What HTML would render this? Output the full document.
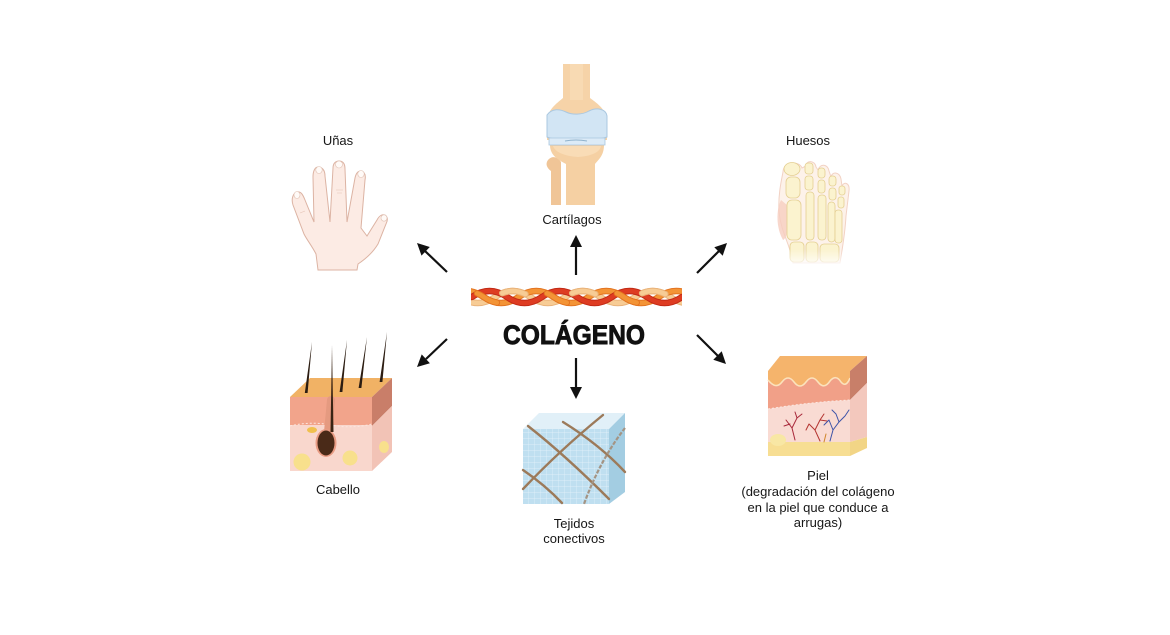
<!DOCTYPE html>
<html><head><meta charset="utf-8"><style>
html,body{margin:0;padding:0;background:#fff;width:1170px;height:635px;overflow:hidden}
svg{display:block}
text{font-family:"Liberation Sans",Arial,sans-serif;fill:#161616}
</style></head><body>
<svg width="1170" height="635" viewBox="0 0 1170 635" xmlns="http://www.w3.org/2000/svg">
<rect width="1170" height="635" fill="#fff"/>
<defs>
<clipPath id="ropeclip"><rect x="471" y="280" width="211" height="35"/></clipPath>
<pattern id="grid" width="6" height="6" patternUnits="userSpaceOnUse"><path d="M6,0 L0,0 0,6" fill="none" stroke="#e6f3fa" stroke-width="0.7"/></pattern>
<linearGradient id="footfade" x1="0" y1="0" x2="0" y2="1"><stop offset="0.75" stop-color="#fff" stop-opacity="0"/><stop offset="1" stop-color="#fff" stop-opacity="0.9"/></linearGradient>
</defs>

<!-- ===== Collagen rope ===== -->
<g clip-path="url(#ropeclip)" fill="none" stroke-linecap="round">
  <path d="M425.3,297 q17.5,-12 35,0 t35,0 t35,0 t35,0 t35,0 t35,0 t35,0 t35,0" stroke="#e9b37a" stroke-width="6.5"/>
  <path d="M425.3,297 q17.5,-12 35,0 t35,0 t35,0 t35,0 t35,0 t35,0 t35,0 t35,0" stroke="#f7cc95" stroke-width="4.5"/>
  <path d="M448.7,297 q17.5,-12 35,0 t35,0 t35,0 t35,0 t35,0 t35,0 t35,0" stroke="#e37420" stroke-width="6.5"/>
  <path d="M448.7,297 q17.5,-12 35,0 t35,0 t35,0 t35,0 t35,0 t35,0 t35,0" stroke="#f39436" stroke-width="4.5"/>
  <path d="M472,297 q17.5,-12 35,0 t35,0 t35,0 t35,0 t35,0 t35,0" stroke="#c22a16" stroke-width="6.5"/>
  <path d="M472,297 q17.5,-12 35,0 t35,0 t35,0 t35,0 t35,0 t35,0" stroke="#de3c22" stroke-width="4.5"/>
  <!-- over-crossings to simulate braid -->
  <path d="M425.3,297 q17.5,-12 35,0 t35,0 t35,0 t35,0 t35,0 t35,0 t35,0 t35,0" stroke="#e9b37a" stroke-width="6.5" stroke-dasharray="24,51" stroke-dashoffset="-8"/>
  <path d="M425.3,297 q17.5,-12 35,0 t35,0 t35,0 t35,0 t35,0 t35,0 t35,0 t35,0" stroke="#f7cc95" stroke-width="4.5" stroke-dasharray="24,51" stroke-dashoffset="-8"/>
  <path d="M448.7,297 q17.5,-12 35,0 t35,0 t35,0 t35,0 t35,0 t35,0 t35,0" stroke="#e37420" stroke-width="6.5" stroke-dasharray="22,53" stroke-dashoffset="-30"/>
  <path d="M448.7,297 q17.5,-12 35,0 t35,0 t35,0 t35,0 t35,0 t35,0 t35,0" stroke="#f39436" stroke-width="4.5" stroke-dasharray="22,53" stroke-dashoffset="-30"/>
</g>
<text x="574" y="344" font-size="27" font-weight="bold" text-anchor="middle" textLength="142" lengthAdjust="spacingAndGlyphs" style="fill:#111;stroke:#111;stroke-width:0.9">COLÁGENO</text>

<!-- ===== Arrows ===== -->
<g stroke="#111" stroke-width="2.2" fill="none">
  <line x1="576" y1="275" x2="576" y2="246"/>
  <line x1="576" y1="358" x2="576" y2="388"/>
  <line x1="447" y1="272" x2="425" y2="251"/>
  <line x1="697" y1="273" x2="719" y2="251"/>
  <line x1="447" y1="339" x2="426" y2="359"/>
  <line x1="697" y1="335" x2="718" y2="356"/>
</g>
<g fill="#111">
  <polygon points="576,235 582,247 570,247"/>
  <polygon points="576,399 582,387 570,387"/>
  <polygon points="417,243 429.8,247 421.5,255.6"/>
  <polygon points="727,243 722.7,255.7 714.3,247.3"/>
  <polygon points="417,367 429.9,363.2 421.7,354.4"/>
  <polygon points="726,364 713.3,359.7 721.7,351.3"/>
</g>

<!-- ===== Knee (Cartílagos) ===== -->
<g>
  <path d="M563,64 L590,64 L590,98 C598,104 607,110 607,122 L607,140 L547,140 L547,122 C547,110 556,104 563,98 Z" fill="#f6d3a8"/>
  <path d="M570,64 L583,64 L583,100 L570,100 Z" fill="#f9ddb8" opacity="0.7"/>
  <path d="M548,160 C552,155 558,157 561,162 L561,205 L551,205 L551,171 C547,168 545,164 548,160 Z" fill="#f0c597"/>
  <path d="M550,145 L604,145 C604,156 598,160 595,164 L595,205 L566,205 L566,164 C559,160 550,156 550,145 Z" fill="#f5d0a3"/>
  <path d="M553,146 L601,146 C600,152 592,156 578,157 C564,156 555,152 553,146 Z" fill="#f9dcb6"/>
  <path d="M547,115 C552,108 560,109 566,112 C572,115 582,115 589,111 C597,107 606,109 607,116 L607,137 C600,140 582,140 576,139 C570,140 553,140 547,137 Z" fill="#d2e5f4" stroke="#abc8e0" stroke-width="1"/>
  <path d="M549,138 L605,138 L605,145 L549,145 Z" fill="#dcebf7" stroke="#a9c6de" stroke-width="0.8"/>
  <path d="M565,141 Q576,139 587,141" stroke="#8fb2cc" stroke-width="1" fill="none"/>
</g>
<text x="572" y="224" font-size="13" text-anchor="middle">Cartílagos</text>

<!-- ===== Hand (Uñas) ===== -->
<text x="338" y="145" font-size="13" text-anchor="middle">Uñas</text>
<path d="M318,270 L316,254 C312,246 307,240 304,234 L293,205 C291,199 293,193 297,192 C301,191 303,195 305,200 L314,222 L313,177 C313,171 315,167 318,167 C322,167 325,170 325,176 L330,222 L333,168 C333,163 336,161 339,161 C343,161 345,164 345,169 L347,222 L355,178 C356,173 358,171 361,171 C365,172 366,175 365,180 L361,228 L367,236 L377,220 C379,216 382,214 385,215 C388,217 388,220 386,224 L378,244 C372,254 364,260 358,264 L357,270 Z" fill="#fcebe4" stroke="#dcb3a3" stroke-width="1"/>
<g fill="#fffaf7" stroke="#e0c2b4" stroke-width="0.6">
  <ellipse cx="297" cy="195" rx="3" ry="3.5"/>
  <ellipse cx="319" cy="170" rx="3.2" ry="3.5"/>
  <ellipse cx="339" cy="164.5" rx="3.5" ry="3.5"/>
  <ellipse cx="361" cy="174" rx="3.2" ry="3.5"/>
  <ellipse cx="384" cy="218" rx="3" ry="3.2"/>
</g>
<g stroke="#e4c3b5" stroke-width="0.6" fill="none">
  <path d="M336,190 L343,190 M337,193 L342,193"/>
  <path d="M300,213 L305,211"/>
</g>

<!-- ===== Foot (Huesos) ===== -->
<text x="808" y="145" font-size="13" text-anchor="middle">Huesos</text>
<g>
  <path d="M783,172 C783,162 799,160 802,168 L806,166 C806,160 815,160 816,167 L818,170 C820,163 828,164 829,171 L831,177 C832,171 840,172 841,179 L842,186 C844,181 850,183 849,191 L846,216 C845,235 842,250 840,263 L793,263 C791,246 781,233 779,212 C778,196 781,182 783,172 Z" fill="#fdf2ea" stroke="#f2d2c4" stroke-width="1"/>
  <path d="M781,200 C776,210 776,228 783,240 C788,238 790,220 787,205 Z" fill="#f6cdbf" opacity="0.8"/>
  <g fill="#fbf3cf" stroke="#e4cf92" stroke-width="0.8">
    <ellipse cx="792" cy="169" rx="8" ry="6.5"/>
    <rect x="786" y="177" width="14" height="21" rx="5"/>
    <rect x="787" y="200" width="14" height="40" rx="5"/>
    <rect x="805" y="163" width="8" height="11" rx="3"/>
    <rect x="805" y="176" width="8" height="14" rx="3"/>
    <rect x="806" y="192" width="8" height="48" rx="3.5"/>
    <rect x="818" y="168" width="7" height="10" rx="3"/>
    <rect x="818" y="180" width="7" height="13" rx="3"/>
    <rect x="818" y="195" width="8" height="45" rx="3.5"/>
    <rect x="829" y="176" width="7" height="10" rx="3"/>
    <rect x="829" y="188" width="7" height="12" rx="3"/>
    <rect x="828" y="202" width="7" height="40" rx="3.5"/>
    <rect x="839" y="186" width="6" height="9" rx="2.5"/>
    <rect x="838" y="197" width="6" height="11" rx="2.5"/>
    <rect x="835" y="210" width="7" height="33" rx="3"/>
    <rect x="790" y="242" width="14" height="20" rx="4"/>
    <rect x="806" y="242" width="12" height="20" rx="4"/>
    <rect x="820" y="244" width="19" height="18" rx="4"/>
  </g>
  <rect x="775" y="200" width="80" height="66" fill="url(#footfade)"/>
</g>

<!-- ===== Hair / skin cube (Cabello) ===== -->
<g>
  <polygon points="290,397 372,397 392,378 310,378" fill="#f1b265"/>
  <rect x="290" y="397" width="82" height="29" fill="#f2a48b"/>
  <rect x="290" y="425" width="82" height="46" fill="#f9d7cd"/>
  <path d="M290,426 Q310,421 331,425 T372,424" fill="none" stroke="#fbe6df" stroke-width="1" stroke-dasharray="2,2"/>
  <polygon points="372,397 392,378 392,406 372,426" fill="#c97e69"/>
  <polygon points="372,426 392,406 392,452 372,471" fill="#f2c3b6"/>
  <circle cx="302" cy="462" r="8.5" fill="#f8e08c"/>
  <circle cx="350" cy="458" r="7.5" fill="#f8e08c"/>
  <ellipse cx="384" cy="447" rx="5" ry="6" fill="#f8e08c"/>
  <ellipse cx="312" cy="430" rx="5" ry="3" fill="#f0c04e"/>
  <path d="M331,400 L328,432" stroke="#e59a80" stroke-width="8" stroke-linecap="round"/>
  <ellipse cx="326" cy="443" rx="10.5" ry="14" fill="#e99c84"/>
  <ellipse cx="326" cy="443" rx="8.5" ry="12.5" fill="#4a2a18"/>
  <polygon points="330.5,432 333.5,432 332,345" fill="#3a2414"/>
  <g fill="#2c1d12">
    <polygon points="304.8,393 307.6,393 312,342"/>
    <polygon points="339.6,392 342.4,392 347,340"/>
    <polygon points="358.6,388 361.4,388 367,337"/>
    <polygon points="379.6,382 382.4,382 387,332"/>
  </g>
</g>
<text x="338" y="494" font-size="13" text-anchor="middle">Cabello</text>

<!-- ===== Connective tissue cube (Tejidos conectivos) ===== -->
<g>
  <rect x="523" y="429" width="86" height="75" fill="#bfdff0"/>
  <rect x="523" y="429" width="86" height="75" fill="url(#grid)"/>
  <polygon points="523,429 609,429 625,413 539,413" fill="#e1f0f8"/>
  <polygon points="609,429 625,413 625,492 609,504" fill="#a3cde2"/>
  <g fill="none" stroke="#9c7a5a" stroke-width="2.4" stroke-linecap="round">
    <path d="M528,426 Q565,455 609,499"/>
    <path d="M603,415 Q560,450 523,489"/>
    <path d="M563,422 Q600,445 625,472"/>
    <path d="M523,470 Q545,485 562,503"/>
  </g>
  <path d="M625,428 Q600,460 584,504" fill="none" stroke="#a49484" stroke-width="2.2" stroke-dasharray="4,1.5"/>
</g>
<text x="574" y="528" font-size="13" text-anchor="middle">Tejidos</text>
<text x="574" y="543" font-size="13" text-anchor="middle">conectivos</text>

<!-- ===== Skin cube (Piel) ===== -->
<g>
  <polygon points="768,371 850,371 867,356 780,356" fill="#f5b46c"/>
  <rect x="768" y="371" width="82" height="85" fill="#f9dbd3"/>
  <path d="M768,371 L850,371 L850,400 Q810,402 768,409 Z" fill="#f1a088"/>
  <path d="M768,371 L850,371 L850,378 Q846,388 841,382 Q836,374 830,381 Q824,390 818,382 Q812,374 806,382 Q800,390 794,382 Q788,374 782,382 Q776,390 768,380 Z" fill="#f5b46c"/>
  <path d="M768,380 Q776,390 782,382 Q788,374 794,382 Q800,390 806,382 Q812,374 818,382 Q824,390 830,381 Q836,374 841,382 Q846,388 850,378" fill="none" stroke="#fbe2bc" stroke-width="1.6"/>
  <path d="M768,409 Q810,402 850,400" fill="none" stroke="#fbe8e2" stroke-width="1" stroke-dasharray="2,2"/>
  <rect x="768" y="442" width="82" height="14" fill="#f7de93"/>
  <ellipse cx="778" cy="440" rx="8" ry="6" fill="#f8e7a4"/>
  <polygon points="850,371 867,356 867,383 850,400" fill="#c87f69"/>
  <polygon points="850,400 867,383 867,437 850,442" fill="#f3c8bd"/>
  <polygon points="850,442 867,437 867,448 850,456" fill="#f2d586"/>
  <g fill="none" stroke-width="1" stroke-linecap="round">
    <path d="M795,440 L792,428 L786,420 M792,428 L797,418 L795,412 M797,418 L802,414 M790,424 L784,426" stroke="#a8283a"/>
    <path d="M820,441 L815,430 L809,424 M815,430 L820,420 L824,414 M820,420 L827,421 M809,424 L806,430" stroke="#b43430"/>
    <path d="M830,441 L833,430 L829,420 M833,430 L839,422 L845,416 M839,422 L836,414 L832,410 M845,416 L849,410 M829,420 L824,425" stroke="#3e54a8"/>
    <path d="M824,442 L826,434" stroke="#d0862a"/>
  </g>
</g>
<text x="818" y="480" font-size="13" text-anchor="middle">Piel</text>
<text x="818" y="496" font-size="13" text-anchor="middle">(degradación del colágeno</text>
<text x="818" y="512" font-size="13" text-anchor="middle">en la piel que conduce a</text>
<text x="818" y="527" font-size="13" text-anchor="middle">arrugas)</text>
</svg>
</body></html>
